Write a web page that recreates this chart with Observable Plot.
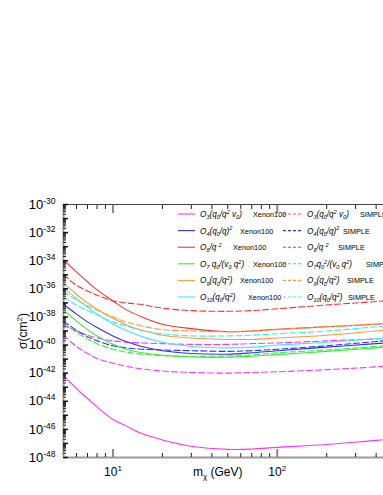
<!DOCTYPE html>
<html><head><meta charset="utf-8">
<script src="https://cdn.jsdelivr.net/npm/d3@7"></script>
<script src="https://cdn.jsdelivr.net/npm/@observablehq/plot@0.6"></script>
<style>
html,body{margin:0;padding:0;overflow:hidden;background:#fff;}
#chart{width:383px;height:495px;overflow:hidden;position:relative;}
#chart svg{max-width:none !important;}
</style></head><body><div id="chart"></div>
<script>
// ---- data (log10 of cross-section in cm^2) ----
const masses = [5,6,7,8,10,12,15,20,30,50,70,100,200,400,1000];
const O3_Xe       = [-42.2,-43.1,-43.8,-44.4,-45.3,-45.75,-46.3,-46.75,-47.2,-47.42,-47.4,-47.28,-47.08,-46.78,-46.4];
const O3_SIMPLE   = [-38.6,-39.0,-39.3,-39.5,-39.7,-39.8,-39.85,-39.9,-39.95,-39.95,-39.9,-39.85,-39.7,-39.55,-39.3];
const O3_SIMPLE_b = [-39.3,-40.1,-40.6,-40.95,-41.3,-41.5,-41.7,-41.85,-41.95,-42.0,-41.95,-41.9,-41.75,-41.55,-41.2];
const O4_Xe       = [-37.1,-37.8,-38.35,-38.75,-39.35,-39.75,-40.1,-40.4,-40.6,-40.65,-40.55,-40.4,-40.15,-39.9,-39.5];
const O4_SIMPLE   = [-38.3,-38.95,-39.4,-39.7,-40.05,-40.2,-40.3,-40.35,-40.4,-40.45,-40.4,-40.3,-40.05,-39.75,-39.3];
const O6_Xe       = [-33.95,-34.79,-35.5,-36.07,-36.86,-37.48,-38.0,-38.52,-38.83,-39.05,-39.0,-38.88,-38.7,-38.52,-38.2];
const O6_SIMPLE   = [-35.0,-35.75,-36.15,-36.45,-36.85,-37.0,-37.12,-37.38,-37.55,-37.6,-37.55,-37.42,-37.15,-36.9,-36.5];
const O7_Xe       = [-37.5,-38.3,-38.9,-39.35,-39.95,-40.3,-40.55,-40.72,-40.85,-40.87,-40.8,-40.68,-40.45,-40.2,-39.8];
const O7_SIMPLE   = [-38.4,-39.1,-39.55,-39.9,-40.3,-40.5,-40.65,-40.75,-40.8,-40.78,-40.7,-40.55,-40.35,-40.1,-39.7];
const O9_Xe       = [-35.6,-36.4,-37.0,-37.45,-38.1,-38.55,-38.95,-39.3,-39.5,-39.6,-39.6,-39.5,-39.3,-39.0,-38.6];
const O9_SIMPLE   = [-36.2,-36.8,-37.2,-37.5,-38.0,-38.35,-38.65,-38.9,-39.0,-39.05,-39.0,-38.9,-38.7,-38.5,-38.1];
const O10_Xe      = [-35.9,-36.7,-37.3,-37.8,-38.5,-38.95,-39.4,-39.8,-40.1,-40.2,-40.15,-40.0,-39.8,-39.55,-39.1];
const O10_SIMPLE  = [-36.6,-37.15,-37.55,-37.85,-38.35,-38.65,-38.95,-39.2,-39.35,-39.35,-39.3,-39.2,-39.0,-38.7,-38.3];

const xTickLabels = [10, 100];
const yTickExps = [-30,-32,-34,-36,-38,-40,-42,-44,-46,-48];
const xMinorTicks = [6,7,8,9,20,30,40,50,60,70,80,90,200,300,400,500,600,700,800,900];
const xMajorTicks = [10,100];

const COLORS = {mag:"#ff33ff", blue:"#2f2ff5", red:"#ff3030", green:"#33ee33", orange:"#ff9933", cyan:"#33eeff"};
const DASH = "6,3";

const series = [
  {vals:O3_Xe, color:COLORS.mag, dash:null},
  {vals:O3_SIMPLE, color:COLORS.mag, dash:DASH},
  {vals:O3_SIMPLE_b, color:COLORS.mag, dash:DASH},
  {vals:O4_Xe, color:COLORS.blue, dash:null},
  {vals:O4_SIMPLE, color:COLORS.blue, dash:DASH},
  {vals:O6_Xe, color:COLORS.red, dash:null},
  {vals:O6_SIMPLE, color:COLORS.red, dash:DASH},
  {vals:O7_Xe, color:COLORS.green, dash:null},
  {vals:O7_SIMPLE, color:COLORS.green, dash:DASH},
  {vals:O9_Xe, color:COLORS.orange, dash:null},
  {vals:O9_SIMPLE, color:COLORS.orange, dash:DASH},
  {vals:O10_Xe, color:COLORS.cyan, dash:null},
  {vals:O10_SIMPLE, color:COLORS.cyan, dash:DASH}
];

const legendRows = [
  {color:COLORS.mag,
   a:[["O"],["3","sub"],["(q"],["0","sub"],["/q"],["2","sup"],[" v"],["0","sub"],[")"]], ax:253,
   b:[["O"],["3","sub"],["(q"],["0","sub"],["/q"],["2","sup"],[" v"],["0","sub"],[")"]], bx:360},
  {color:COLORS.blue,
   a:[["O"],["4","sub"],["(q"],["0","sub"],["/q)"],["2","sup"]], ax:240,
   b:[["O"],["4","sub"],["(q"],["0","sub"],["/q)"],["2","sup"]], bx:343},
  {color:COLORS.red,
   a:[["O"],["6","sub"],["/q "],["2","sup"]], ax:233,
   b:[["O"],["6","sub"],["/q "],["2","sup"]], bx:338},
  {color:COLORS.green,
   a:[["O"],["7","sub"],[" q"],["0","sub"],["/(v"],["0","sub"],[" q"],["2","sup"],[")"]], ax:253,
   b:[["O"],["7","sub"],["q"],["0","sub"],["2","sup"],["/(v"],["0","sub"],[" q"],["2","sup"],[")"]], bx:366},
  {color:COLORS.orange,
   a:[["O"],["9","sub"],["(q"],["0","sub"],["/q"],["2","sup"],[")"]], ax:240,
   b:[["O"],["9","sub"],["(q"],["0","sub"],["/q"],["2","sup"],[")"]], bx:347},
  {color:COLORS.cyan,
   a:[["O"],["10","sub"],["(q"],["0","sub"],["/q"],["2","sup"],[")"]], ax:248,
   b:[["O"],["10","sub"],["(q"],["0","sub"],["/q"],["2","sup"],[")"]], bx:348}
];

// ---- build ----
const FONT = "'Liberation Sans', Arial, Helvetica, sans-serif";
const yMinorTicks = [];
const yDecadeTicks = [];
for (let d = -48; d <= -30; d++) {
  yDecadeTicks.push(Math.pow(10, d));
  if (d < -30) for (let k = 2; k <= 9; k++) yMinorTicks.push(k * Math.pow(10, d));
}
const lineMarks = series.map(s => Plot.line(
  masses.map((m, i) => ({m, s: Math.pow(10, s.vals[i])})),
  {x:"m", y:"s", stroke:s.color, strokeWidth:1.1, strokeDasharray:s.dash, curve:"catmull-rom"}
));

const W = 461;
const chart = Plot.plot({
  width: W, height: 495,
  marginLeft: 63, marginRight: 20, marginTop: 204, marginBottom: 38,
  x: {type:"log", domain:[5,1000]},
  y: {type:"log", domain:[1e-48,1e-30]},
  style: {fontFamily: FONT, background:"white", color:"#000", maxWidth:"none"},
  marks: [
    ...lineMarks,
    Plot.ruleY([1e-30], {stroke:"#444", strokeWidth:1}),
    Plot.ruleY([1e-48], {stroke:"#999", strokeWidth:2}),
    Plot.ruleX([5], {stroke:"#999", strokeWidth:2}),
    Plot.axisX(xMinorTicks, {anchor:"bottom", tickSize:4, dy:-4, fill:"none", stroke:"#222", label:null}),
    Plot.axisX(xMajorTicks, {anchor:"bottom", tickSize:8, dy:-8, fill:"none", stroke:"#888", strokeWidth:2, label:null}),
    Plot.axisX(xMinorTicks, {anchor:"top", tickSize:4, dy:4, fill:"none", stroke:"#222", label:null}),
    Plot.axisX(xMajorTicks, {anchor:"top", tickSize:8, dy:8, fill:"none", stroke:"#888", strokeWidth:2, label:null}),
    Plot.axisY(yMinorTicks, {anchor:"left", tickSize:3, dx:3, fill:"none", stroke:"#222", label:null}),
    Plot.axisY(yDecadeTicks, {anchor:"left", tickSize:5, dx:5, fill:"none", stroke:"#111", strokeWidth:1.5, label:null}),
    Plot.axisX(xTickLabels, {anchor:"bottom", tickSize:0, tickPadding:10, fontSize:12, label:null,
      tickFormat: d => "10|" + Math.round(Math.log10(d))}),
    Plot.axisY(yTickExps.map(e => Math.pow(10, e)), {anchor:"left", tickSize:0, tickPadding:8, fontSize:13, label:null,
      tickFormat: d => "10|" + Math.round(Math.log10(d))})
  ]
});
chart.style.maxWidth = "none";
chart.setAttribute("width", W);
chart.style.width = W + "px";
chart.style.height = "495px";
document.getElementById("chart").appendChild(chart);

const NS = "http://www.w3.org/2000/svg";
function el(tag, attrs, parent) {
  const e = document.createElementNS(NS, tag);
  for (const k in attrs) e.setAttribute(k, attrs[k]);
  if (parent) parent.appendChild(e);
  return e;
}
// superscript tick labels
chart.querySelectorAll('g[aria-label="y-axis tick label"] text, g[aria-label="x-axis tick label"] text').forEach(t => {
  const [base, exp] = t.textContent.split("|");
  const isY = t.closest('g[aria-label="y-axis tick label"]') != null;
  t.textContent = "";
  const b = el("tspan", {}, t); b.textContent = base;
  const s = el("tspan", {dy: "-5", "font-size": isY ? "8.5" : "8"}, t); s.textContent = exp;
});

// axis titles
const g = el("g", {"font-family": FONT, fill:"#000", "text-anchor":"start"}, chart);
const yl = el("text", {transform:"translate(27,331) rotate(-90)", "text-anchor":"middle", "font-size":"12"}, g);
el("tspan", {}, yl).textContent = "σ(cm";
el("tspan", {dy:"-5", "font-size":"8"}, yl).textContent = "2";
el("tspan", {dy:"5"}, yl).textContent = ")";
const xl = el("text", {x:193, y:476, "font-size":"12", "text-anchor":"start"}, g);
el("tspan", {}, xl).textContent = "m";
el("tspan", {dy:"3", "font-size":"8"}, xl).textContent = "χ";
el("tspan", {dy:"-3"}, xl).textContent = " (GeV)";

// legend
const lg = el("g", {"font-family": FONT, "text-anchor":"start"}, chart);
function mathLabel(x, y, parts, suffix, sx) {
  const t = el("text", {x, y, fill:"#000", "text-anchor":"start"}, lg);
  let off = 0;
  parts.forEach(([txt, kind]) => {
    let target = kind === "sub" ? 2.2 : kind === "sup" ? -3.3 : 0;
    const sp = el("tspan", {dy: String(target - off), "font-size": kind ? "5.5" : "8.2", "font-style":"italic"}, t);
    sp.textContent = txt;
    off = target;
  });
  const sf = el("tspan", {x: sx, dy: String(-off), "font-size":"7.3"}, t);
  sf.textContent = suffix;
}
legendRows.forEach((r, i) => {
  const y = 214 + i * 16.6;
  el("line", {x1:178, x2:195, y1:y, y2:y, stroke:r.color, "stroke-width":1.1}, lg);
  el("line", {x1:283, x2:303, y1:y, y2:y, stroke:r.color, "stroke-width":1.1, "stroke-dasharray":"3,2"}, lg);
  mathLabel(200, y + 3, r.a, "Xenon100", r.ax);
  mathLabel(307, y + 3, r.b, "SIMPLE", r.bx);
});
</script></body></html>
